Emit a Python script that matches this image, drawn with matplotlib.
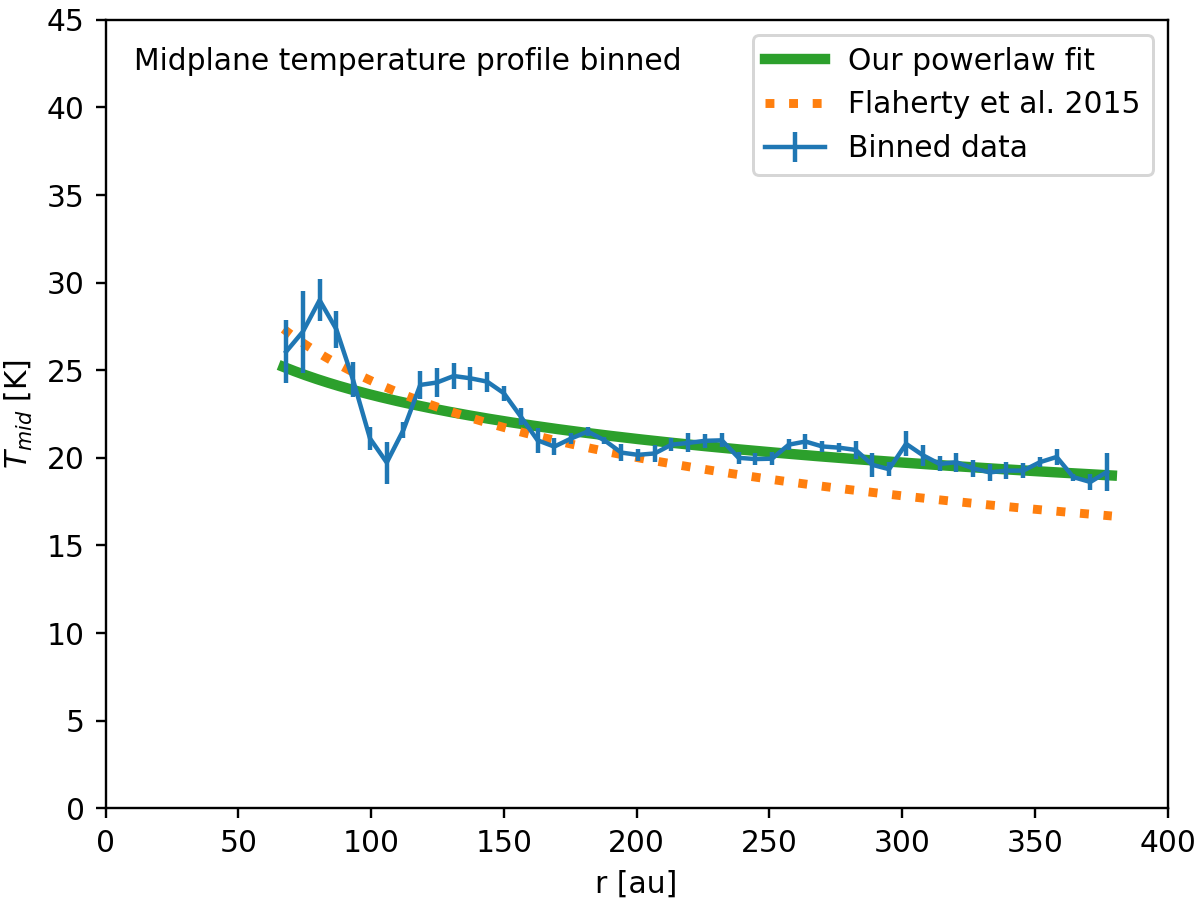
import numpy as np
import matplotlib
matplotlib.use("Agg")
import matplotlib.pyplot as plt

r_bins = [68.0, 74.3, 80.6, 86.9, 93.2, 99.6, 105.9, 112.2, 118.5, 124.8,
          131.1, 137.4, 143.7, 150.0, 156.4, 162.7, 169.0, 175.3, 181.6, 187.9,
          194.2, 200.5, 206.8, 213.1, 219.4, 225.7, 232.1, 238.4, 244.7, 251.0,
          257.3, 263.6, 269.9, 276.2, 282.5, 288.8, 295.1, 301.5, 307.8, 314.1,
          320.4, 326.7, 333.0, 339.3, 345.6, 351.9, 358.2, 364.5, 370.9, 377.2]
T_bins = [26.06, 27.2, 29.0, 27.34, 24.45, 21.1, 19.73, 21.6, 24.16, 24.3,
          24.67, 24.54, 24.35, 23.69, 22.35, 21.0, 20.64, 21.1, 21.5, 21.0,
          20.3, 20.17, 20.25, 20.75, 20.85, 20.97, 21.0, 20.0, 19.93, 19.95,
          20.75, 20.93, 20.65, 20.58, 20.45, 19.6, 19.35, 20.8, 20.15, 19.65,
          19.75, 19.4, 19.17, 19.27, 19.27, 19.75, 20.05, 18.9, 18.62, 19.2]
T_err = [1.8, 2.35, 1.2, 1.05, 1.0, 0.67, 1.2, 0.45, 0.8, 0.8,
         0.75, 0.67, 0.57, 0.43, 0.47, 0.7, 0.5, 0.3, 0.28, 0.2,
         0.48, 0.36, 0.49, 0.36, 0.54, 0.39, 0.39, 0.34, 0.32, 0.37,
         0.3, 0.43, 0.3, 0.26, 0.49, 0.69, 0.39, 0.71, 0.59, 0.43,
         0.55, 0.49, 0.47, 0.49, 0.43, 0.27, 0.45, 0.2, 0.47, 1.08]

# power-law parameters: T = T100 * (r/100)^q
fit_T100, fit_q = 23.6, -0.163
flah_T100, flah_q = 24.4, -0.2855

r_model = np.linspace(67.0, 379.0, 300)
T_fit = fit_T100 * (r_model / 100.0) ** fit_q
T_flah = flah_T100 * (r_model / 100.0) ** flah_q

DPI = 213.75
fig, ax = plt.subplots(figsize=(1200 / DPI, 903 / DPI), dpi=DPI)
ax.plot(r_model, T_fit, color="tab:green", lw=3.5, label="Our powerlaw fit")
ax.plot(r_model, T_flah, color="tab:orange", lw=3, ls=":", label="Flaherty et al. 2015")
ax.errorbar(r_bins, T_bins, yerr=T_err, color="tab:blue", label="Binned data")

ax.set_xlim(0, 400)
ax.set_ylim(0, 45)
ax.set_xlabel("r [au]")
ax.set_ylabel(r"$T_{mid}$ [K]")
ax.text(0.027, 0.947, "Midplane temperature profile binned", transform=ax.transAxes,
        ha="left", va="center")
ax.legend(loc="upper right")
fig.subplots_adjust(left=0.088, right=0.973, top=0.978, bottom=0.105)
fig.savefig("out.png", dpi=DPI)
